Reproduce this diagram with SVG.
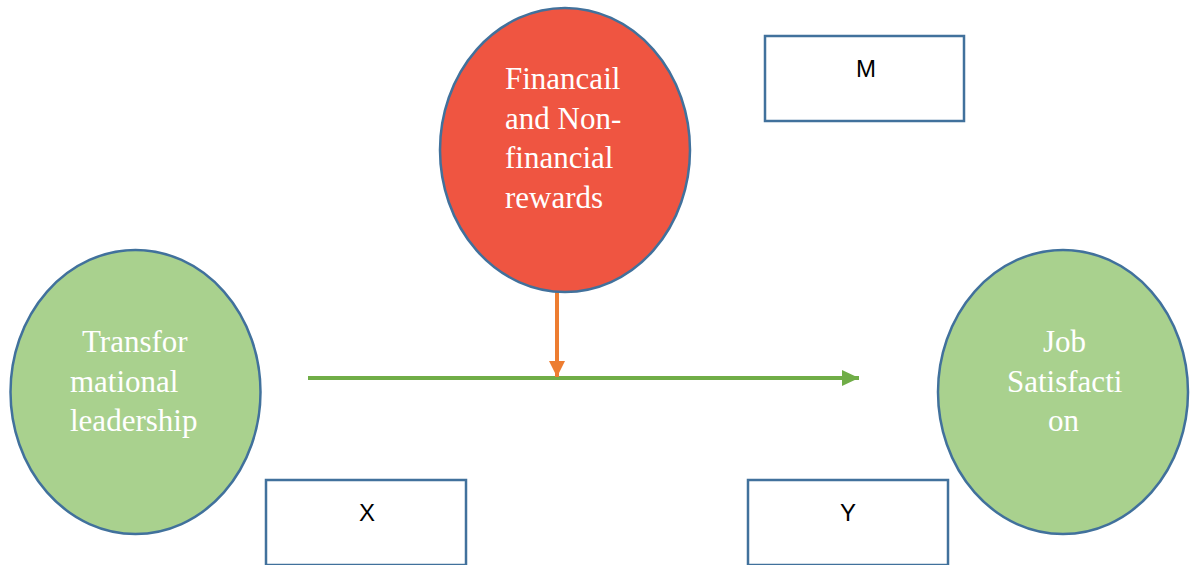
<svg xmlns="http://www.w3.org/2000/svg" width="1190" height="565" viewBox="0 0 1190 565">
<defs>
<style>
.ell{stroke:#41719C;stroke-width:2.5}
.green{fill:#A9D18E}
.red{fill:#EF5541}
.lbl{font-family:"Liberation Serif",serif;font-size:31px;fill:#ffffff}
.box{fill:#ffffff;stroke:#41719C;stroke-width:2.5}
.bt{font-family:"Liberation Sans",Arial,sans-serif;font-size:24px;fill:#000000;text-anchor:middle}
</style>
<marker id="ag" markerUnits="userSpaceOnUse" markerWidth="20" markerHeight="20" refX="17" refY="8" orient="auto"><path d="M0,0 L17,8 L0,16 Z" fill="#70AD47"/></marker>
<marker id="ao" markerUnits="userSpaceOnUse" markerWidth="20" markerHeight="20" refX="16" refY="8" orient="auto"><path d="M0,0 L16,8 L0,16 Z" fill="#ED7D31"/></marker>
</defs>
<rect width="1190" height="565" fill="#ffffff"/>
<g id="connectors">
<line x1="308" y1="378" x2="859" y2="378" stroke="#70AD47" stroke-width="4" marker-end="url(#ag)"/>
<line x1="557" y1="290" x2="557" y2="377" stroke="#ED7D31" stroke-width="4" marker-end="url(#ao)"/>
</g>
<g id="rewards">
<ellipse class="ell red" cx="565" cy="150" rx="125" ry="142"/>
<text class="lbl"><tspan x="505" y="89">Financail</tspan><tspan x="505" y="128.5">and Non-</tspan><tspan x="505" y="168">financial</tspan><tspan x="505" y="207.5">rewards</tspan></text>
</g>
<g id="transformational">
<ellipse class="ell green" cx="135.5" cy="392" rx="125" ry="142"/>
<text class="lbl"><tspan x="82" y="352">Transfor</tspan><tspan x="70" y="391.5">mational</tspan><tspan x="70" y="431">leadership</tspan></text>
</g>
<g id="job">
<ellipse class="ell green" cx="1063" cy="392" rx="125" ry="142"/>
<text class="lbl"><tspan x="1043" y="352">Job</tspan><tspan x="1007" y="391.5">Satisfacti</tspan><tspan x="1048" y="431">on</tspan></text>
</g>
<g id="m">
<rect class="box" x="765" y="36" width="199" height="85"/>
<text class="bt" x="866" y="77">M</text>
</g>
<g id="x">
<rect class="box" x="266" y="480" width="200" height="85"/>
<text class="bt" x="367" y="521">X</text>
</g>
<g id="y">
<rect class="box" x="748" y="480" width="200" height="85"/>
<text class="bt" x="848" y="521">Y</text>
</g>
</svg>
